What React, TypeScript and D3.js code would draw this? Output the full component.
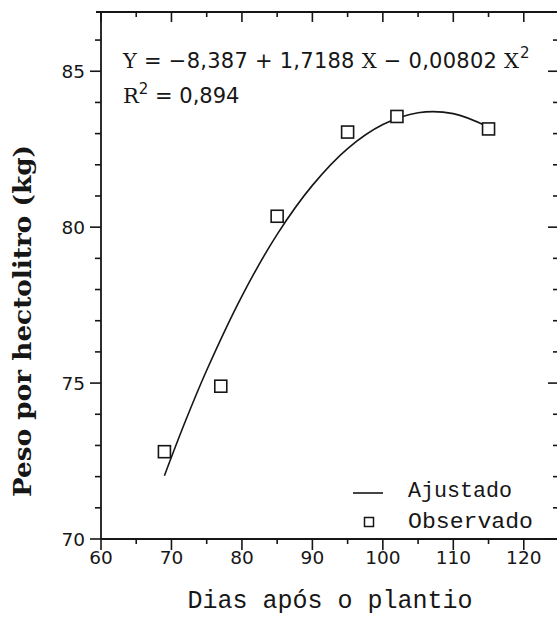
import React from "react";
import * as d3 from "d3";

const obsDays = [69, 77, 85, 95, 102, 115];
const obsValues = [72.8, 74.9, 80.35, 83.05, 83.55, 83.15];
const fitDays = [69, 72, 75, 80, 85, 90, 95, 100, 105, 110, 115];
const fitValues = [72.03, 73.79, 75.41, 77.79, 79.77, 81.34, 82.52, 83.29, 83.67, 83.64, 83.21];
const xMajorTicks = [60, 70, 80, 90, 100, 110, 120];
const xMinorTicks = [65, 75, 85, 95, 105, 115];
const yMajorTicks = [70, 75, 80, 85];
const yMinorTicks = [71, 72, 73, 74, 76, 77, 78, 79, 81, 82, 83, 84, 86];
const legendLabels = ["Ajustado", "Observado"];

const W = 557;
const H = 623;
const L = 101;
const R = 559;
const T = 12;
const B = 539;
const INK = "#161616";

export default function App() {
  const x = d3.scaleLinear().domain([60, 125]).range([L, R]);
  const y = d3.scaleLinear().domain([70, 86.9]).range([B, T]);
  const line = d3
    .line<number>()
    .x((_, i) => x(fitDays[i]))
    .y((d) => y(d))
    .curve(d3.curveCatmullRom);
  const sans = "'DejaVu Sans', sans-serif";
  const serif = "'DejaVu Serif', serif";
  const mono = "'Liberation Mono', 'DejaVu Sans Mono', monospace";
  const sq = 12;
  return (
    <svg
      width={W}
      height={H}
      style={{ position: "absolute", left: 0, top: 0, background: "#fff" }}
    >
      {/* frame */}
      <line x1={L} x2={L} y1={T - 1} y2={B} stroke={INK} strokeWidth={1.8} />
      <line x1={L} x2={R} y1={B} y2={B} stroke={INK} strokeWidth={1.8} />
      <line x1={L - 5} x2={R} y1={T} y2={T} stroke={INK} strokeWidth={1.8} />
      <line x1={R} x2={R} y1={T} y2={B} stroke={INK} strokeWidth={1.8} />

      {/* x ticks bottom (outward) and top (inward) */}
      {xMajorTicks.map((t) => (
        <g key={"xM" + t}>
          <line x1={x(t)} x2={x(t)} y1={B} y2={B + 11} stroke={INK} strokeWidth={1.6} />
          <line x1={x(t)} x2={x(t)} y1={T} y2={T + 10} stroke={INK} strokeWidth={1.6} />
          <text
            x={x(t)}
            y={B + 25}
            textAnchor="middle"
            fontFamily={sans}
            fontSize={18.5}
            fill={INK}
          >
            {t}
          </text>
        </g>
      ))}
      {xMinorTicks.map((t) => (
        <g key={"xm" + t}>
          <line x1={x(t)} x2={x(t)} y1={B} y2={B + 5} stroke={INK} strokeWidth={1.6} />
          <line x1={x(t)} x2={x(t)} y1={T} y2={T + 5} stroke={INK} strokeWidth={1.6} />
        </g>
      ))}

      {/* y ticks left (outward) and right (inward) */}
      {yMajorTicks.map((t) => (
        <g key={"yM" + t}>
          <line x1={L - 11} x2={L} y1={y(t)} y2={y(t)} stroke={INK} strokeWidth={1.6} />
          <line x1={R - 11} x2={R} y1={y(t)} y2={y(t)} stroke={INK} strokeWidth={1.6} />
          <text
            x={L - 16}
            y={y(t)}
            dy="0.36em"
            textAnchor="end"
            fontFamily={sans}
            fontSize={18.5}
            fill={INK}
          >
            {t}
          </text>
        </g>
      ))}
      {yMinorTicks.map((t) => (
        <g key={"ym" + t}>
          <line x1={L - 6} x2={L} y1={y(t)} y2={y(t)} stroke={INK} strokeWidth={1.6} />
          <line x1={R - 6} x2={R} y1={y(t)} y2={y(t)} stroke={INK} strokeWidth={1.6} />
        </g>
      ))}

      {/* fitted curve */}
      <path d={line(fitValues) || ""} fill="none" stroke={INK} strokeWidth={1.6} />

      {/* observed points */}
      {obsDays.map((d, i) => (
        <rect
          key={"p" + d}
          x={x(d) - sq / 2}
          y={y(obsValues[i]) - sq / 2}
          width={sq}
          height={sq}
          fill="#fff"
          stroke={INK}
          strokeWidth={1.6}
        />
      ))}

      {/* equation */}
      <text
        x={123}
        y={68}
        fontFamily={sans}
        fontSize={21}
        fill={INK}
        textLength={396}
        lengthAdjust="spacing"
      >
        <tspan fontFamily={serif}>Y</tspan>
        {" = \u22128,387 + 1,7188 "}
        <tspan fontFamily={serif}>X</tspan>
        {" \u2212 0,00802 "}
        <tspan fontFamily={serif}>X</tspan>
      </text>
      <text x={520} y={58} fontFamily={sans} fontSize={15} fill={INK}>
        2
      </text>
      <text x={123} y={103} fontFamily={sans} fontSize={21} fill={INK}>
        <tspan fontFamily={serif}>R</tspan>
        <tspan dy={-9} fontSize={15}>2</tspan>
        <tspan dy={9}>{" = 0,894"}</tspan>
      </text>

      {/* legend */}
      <line x1={353} x2={383} y1={493} y2={493} stroke={INK} strokeWidth={1.6} />
      <text x={408} y={497} fontFamily={mono} fontSize={22} textLength={104} lengthAdjust="spacingAndGlyphs" fill={INK}>
        {legendLabels[0]}
      </text>
      <rect x={369 - 4.5} y={522 - 4.5} width={9} height={9} fill="#fff" stroke={INK} strokeWidth={1.5} />
      <text x={408} y={528} fontFamily={mono} fontSize={22} textLength={125} lengthAdjust="spacingAndGlyphs" fill={INK}>
        {legendLabels[1]}
      </text>

      {/* axis titles */}
      <text
        x={(L + R) / 2}
        y={608}
        textAnchor="middle"
        fontFamily={mono}
        fontSize={25}
        fill={INK}
      >
        Dias após o plantio
      </text>
      <text
        transform="translate(30.5, 321) rotate(-90)"
        textAnchor="middle"
        fontFamily={serif}
        fontWeight="bold"
        fontSize={24}
        textLength={352}
        lengthAdjust="spacingAndGlyphs"
        fill={INK}
      >
        Peso por hectolitro (kg)
      </text>
    </svg>
  );
}
